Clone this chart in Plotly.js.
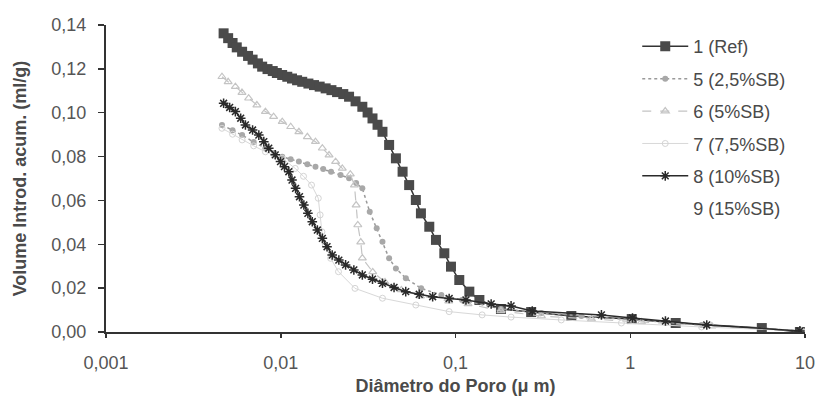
<!DOCTYPE html>
<html>
<head>
<meta charset="utf-8">
<script src="https://cdn.plot.ly/plotly-3.0.1.min.js"></script>
<style>html,body{margin:0;padding:0;background:#fff;}#chart{width:817px;height:396px;}</style>
</head>
<body>
<div id="chart"></div>
<script>
// Series names
var seriesNames = ['1 (Ref)', '5 (2,5%SB)', '6 (5%SB)', '7 (7,5%SB)', '8 (10%SB)', '9 (15%SB)'];

// 1 (Ref)
var d1 = [0.00471, 0.0050, 0.0053, 0.0056, 0.00601, 0.0065, 0.0069, 0.0074, 0.00783, 0.0084, 0.0090, 0.0095, 0.01019, 0.0109, 0.0116, 0.0124, 0.01327, 0.0144, 0.0155, 0.0167, 0.01807, 0.0195, 0.0210, 0.0228, 0.0246, 0.0268, 0.0293, 0.0314, 0.0335, 0.0358, 0.0382, 0.0417, 0.0456, 0.0498, 0.0543, 0.0593, 0.0634, 0.0708, 0.0773, 0.0863, 0.0942, 0.1051, 0.120, 0.137, 0.182, 0.271, 0.46, 1.02, 1.82, 5.66, 9.35];
var v1 = [0.1362, 0.1340, 0.1318, 0.1298, 0.1278, 0.1259, 0.1242, 0.1225, 0.1210, 0.1199, 0.1190, 0.1181, 0.1172, 0.1164, 0.1156, 0.1148, 0.1141, 0.1133, 0.1126, 0.1119, 0.1111, 0.1103, 0.1094, 0.1085, 0.1073, 0.1052, 0.1027, 0.1001, 0.0974, 0.0945, 0.0913, 0.0853, 0.0792, 0.0731, 0.0670, 0.0602, 0.0541, 0.0480, 0.0420, 0.0359, 0.0298, 0.0237, 0.0184, 0.0146, 0.0105, 0.0091, 0.0073, 0.0059, 0.0041, 0.0018, 0.0000];

// 5 (2,5%SB)
var d5 = [0.00461, 0.0053, 0.00601, 0.0070, 0.00817, 0.0092, 0.0102, 0.0114, 0.0127, 0.0142, 0.0158, 0.0175, 0.0194, 0.0220, 0.0246, 0.0270, 0.0293, 0.0323, 0.0354, 0.0382, 0.0417, 0.0456, 0.0520, 0.0636, 0.0830, 0.1090, 0.182, 0.31, 0.525, 1.02, 2.56, 9.6];
var v5 = [0.0944, 0.0920, 0.0898, 0.0866, 0.0838, 0.0816, 0.0799, 0.0788, 0.0777, 0.0765, 0.0754, 0.0743, 0.0731, 0.0716, 0.0701, 0.0680, 0.0655, 0.0548, 0.0473, 0.0412, 0.0336, 0.0290, 0.0245, 0.0199, 0.0169, 0.0146, 0.0105, 0.0087, 0.0073, 0.0055, 0.0032, 0.0005];

// 6 (5%SB)
var d6 = [0.00461, 0.0050, 0.0055, 0.0060, 0.00655, 0.0073, 0.00817, 0.0091, 0.0102, 0.0114, 0.0127, 0.0142, 0.0158, 0.0173, 0.0189, 0.0206, 0.0225, 0.0250, 0.0264, 0.0270, 0.0276, 0.0287, 0.0293, 0.0336, 0.0395, 0.0490, 0.0630, 0.0915, 0.1180, 0.182, 0.31, 0.6, 1.16, 2.93, 9.6];
var v6 = [0.1164, 0.1141, 0.1119, 0.1092, 0.1066, 0.1035, 0.1005, 0.0982, 0.0959, 0.0936, 0.0913, 0.0890, 0.0868, 0.0838, 0.0807, 0.0777, 0.0746, 0.0720, 0.0670, 0.0579, 0.0488, 0.0410, 0.0337, 0.0274, 0.0228, 0.0192, 0.0164, 0.0141, 0.0128, 0.0096, 0.0073, 0.0059, 0.0046, 0.0027, 0.0005];

// 7 (7,5%SB)
var d7 = [0.00461, 0.0053, 0.00601, 0.0070, 0.00817, 0.0092, 0.0102, 0.0121, 0.0135, 0.0150, 0.0164, 0.0168, 0.0172, 0.0180, 0.0193, 0.0214, 0.0266, 0.0382, 0.0593, 0.0920, 0.1420, 0.208, 0.403, 0.89, 2.56, 9.6];
var v7 = [0.0929, 0.0902, 0.0876, 0.0849, 0.0822, 0.0806, 0.0792, 0.0746, 0.0710, 0.0670, 0.0610, 0.0534, 0.0457, 0.0397, 0.0336, 0.0275, 0.0199, 0.0154, 0.0123, 0.0093, 0.0078, 0.0068, 0.0055, 0.0041, 0.0023, 0.0005];

// 8 (10%SB)
var d8 = [0.00471, 0.0051, 0.0055, 0.0059, 0.00628, 0.0069, 0.00749, 0.0080, 0.00854, 0.0093, 0.00997, 0.0105, 0.01112, 0.0116, 0.01216, 0.0128, 0.01356, 0.0143, 0.01515, 0.0162, 0.0173, 0.0184, 0.0197, 0.0215, 0.0235, 0.0262, 0.0293, 0.0335, 0.0382, 0.0445, 0.0519, 0.0620, 0.0740, 0.0920, 0.1148, 0.160, 0.208, 0.275, 0.684, 1.03, 1.59, 2.74, 9.35];
var v8 = [0.1043, 0.1024, 0.1005, 0.0975, 0.0944, 0.0921, 0.0898, 0.0868, 0.0838, 0.0808, 0.0777, 0.0754, 0.0731, 0.0693, 0.0655, 0.0617, 0.0579, 0.0541, 0.0503, 0.0465, 0.0427, 0.0389, 0.0351, 0.0328, 0.0306, 0.0283, 0.0260, 0.0241, 0.0222, 0.0203, 0.0184, 0.0172, 0.0161, 0.0153, 0.0146, 0.0128, 0.0119, 0.0096, 0.0078, 0.0064, 0.0050, 0.0032, 0.0005];

// 9 (15%SB) - not visible in the reference
var d9 = [null];
var v9 = [null];

// Axis ticks
var xTickVals = [0.001, 0.01, 0.1, 1, 10];
var xTickText = ['0,001', '0,01', '0,1', '1', '10'];

var FONT = 'Liberation Sans, Arial, sans-serif';

function tr(x, y, name, color, dash, width, symbol, msize, mcolor, mline) {
  return {
    x: x, y: y, name: name, type: 'scatter', mode: 'lines+markers',
    legendgroup: name,
    line: {color: color, dash: dash, width: width},
    marker: {symbol: symbol, size: msize, color: mcolor, line: {color: mcolor, width: mline}},
    showlegend: true
  };
}

var traces = [
  tr(d1, v1, seriesNames[0], '#333333', 'solid', 1.5, 'square', 10, '#4a4a4a', 0),
  tr(d5, v5, seriesNames[1], '#9a9a9a', 'dot', 1.5, 'circle', 6, '#a8a8a8', 0),
  tr(d6, v6, seriesNames[2], '#c4c4c4', 'dash', 1.2, 'triangle-up-open', 7, '#c4c4c4', 1.2),
  tr(d7, v7, seriesNames[3], '#d8d8d8', 'solid', 1, 'circle-open', 6, '#d4d4d4', 1),
  tr(d8, v8, seriesNames[4], '#2a2a2a', 'solid', 1.5, 'asterisk-open', 8, '#2a2a2a', 1.5),
  tr(d9, v9, seriesNames[5], '#ffffff', 'solid', 1, 'circle', 6, '#ffffff', 0)
];

var layout = {
  width: 817, height: 396,
  margin: {l: 106, r: 12, t: 25, b: 64},
  paper_bgcolor: '#ffffff', plot_bgcolor: '#ffffff',
  separators: ',.',
  font: {family: FONT, color: '#4a4a4a'},
  xaxis: {
    type: 'log', range: [-3, 1],
    tickvals: xTickVals, ticktext: xTickText,
    showgrid: false, zeroline: false,
    showline: true, linecolor: '#333333', linewidth: 2,
    ticks: 'outside', ticklen: 4, tickcolor: '#333333', tickwidth: 1.5,
    ticklabelstandoff: 9,
    tickfont: {family: FONT, size: 18, color: '#555555'},
    title: {text: 'Diâmetro do Poro (μ m)', font: {family: FONT, size: 18, color: '#4a4a4a', weight: 'bold'}, standoff: 14}
  },
  yaxis: {
    range: [0, 0.14], dtick: 0.02, tick0: 0, tickformat: '.2f',
    showgrid: false, zeroline: false,
    showline: true, linecolor: '#333333', linewidth: 2,
    ticks: 'outside', ticklen: 6, tickcolor: '#333333', tickwidth: 1.5,
    ticklabelstandoff: 8,
    tickfont: {family: FONT, size: 18, color: '#555555'},
    title: {text: 'Volume Introd. acum. (ml/g)', font: {family: FONT, size: 18, color: '#4a4a4a', weight: 'bold'}, standoff: 20}
  },
  legend: {
    x: 0.76, y: 0.99, xanchor: 'left', yanchor: 'top',
    font: {family: FONT, size: 18, color: '#4a4a4a'},
    bgcolor: 'rgba(0,0,0,0)', itemwidth: 46,
    traceorder: 'grouped', tracegroupgap: 6
  },
  showlegend: true
};

Plotly.newPlot('chart', traces, layout, {staticPlot: true, displayModeBar: false});
</script>
</body>
</html>
